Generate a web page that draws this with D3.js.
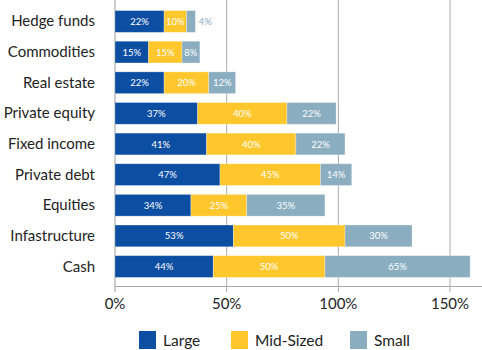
<!DOCTYPE html>
<html><head><meta charset="utf-8">
<script src="https://cdn.jsdelivr.net/npm/d3@7"></script>
<style>
html,body{margin:0;padding:0;background:#fff;}
svg{display:block;font-family:Lato,"Open Sans",sans-serif;}
</style></head>
<body>
<svg id="c" width="482" height="350"></svg>
<script>
const categories = ["Hedge funds","Commodities","Real estate","Private equity","Fixed income","Private debt","Equities","Infastructure","Cash"];
const seriesNames = ["Large","Mid-Sized","Small"];
const large = [22,15,22,37,41,47,34,53,44];
const mid   = [10,15,20,40,40,45,25,50,50];
const small = [4,8,12,22,22,14,35,30,65];
const xTicks = [0,50,100,150];
const colors = ["#0b4ea2","#ffc72c","#8aadbf"];

const svg = d3.select("#c");
const x = d3.scaleLinear().domain([0,150]).range([115,450]);
const y = d3.scaleBand().domain(categories).range([6,282]).paddingInner(0.29).paddingOuter(0.15);

const data = categories.map((c,i)=>({cat:c, Large:large[i], "Mid-Sized":mid[i], Small:small[i]}));
const stack = d3.stack().keys(seriesNames)(data);

// gridlines
svg.append("g").selectAll("line").data(xTicks).join("line")
  .attr("x1",d=>x(d)).attr("x2",d=>x(d)).attr("y1",0).attr("y2",292)
  .attr("stroke",d=>d===0?"#999":"#aaa").attr("stroke-width",1);
// bottom axis line
svg.append("line").attr("x1",x(0)).attr("x2",482).attr("y1",286.5).attr("y2",286.5).attr("stroke","#aaa");

// tick labels
svg.append("g").selectAll("text").data(xTicks).join("text")
  .attr("x",d=>x(d)).attr("y",309).attr("text-anchor","middle")
  .attr("font-size",15).attr("fill","#222").text(d=>d+"%");

// bars
const layers = svg.append("g").selectAll("g").data(stack).join("g")
  .attr("fill",(d,i)=>colors[i]);
layers.selectAll("rect").data(d=>d).join("rect")
  .attr("x",d=>x(d[0])).attr("width",d=>x(d[1])-x(d[0]))
  .attr("y",d=>y(d.data.cat)).attr("height",y.bandwidth())
  .attr("stroke","rgba(255,255,255,0.35)").attr("stroke-width",0.8);

// value labels
stack.forEach((layer,li)=>{
  svg.append("g").selectAll("text").data(layer).join("text")
    .attr("x",d=>{
      const w = x(d[1])-x(d[0]);
      return w < 14 ? x(d[1])+10 : (x(d[0])+x(d[1]))/2;
    })
    .attr("y",d=>y(d.data.cat)+y.bandwidth()/2+3.5)
    .attr("text-anchor","middle").attr("font-size",9.5)
    .attr("fill",d=>(x(d[1])-x(d[0]))<14 ? "#8aadbf" : "#fff")
    .text(d=>(d[1]-d[0])+"%");
});

// category labels
svg.append("g").selectAll("text").data(categories).join("text")
  .attr("x",95).attr("y",d=>y(d)+y.bandwidth()/2+5)
  .attr("text-anchor","end").attr("font-size",15).attr("fill","#222").text(d=>d);

// legend
const legX = [139,231,350];
const lg = svg.append("g").selectAll("g").data(seriesNames).join("g")
  .attr("transform",(d,i)=>`translate(${legX[i]},331)`);
lg.append("rect").attr("width",17).attr("height",18).attr("fill",(d,i)=>colors[i]);
lg.append("text").attr("x",24).attr("y",14.5).attr("font-size",15.5).attr("fill","#222").text(d=>d);
</script>
</body></html>
